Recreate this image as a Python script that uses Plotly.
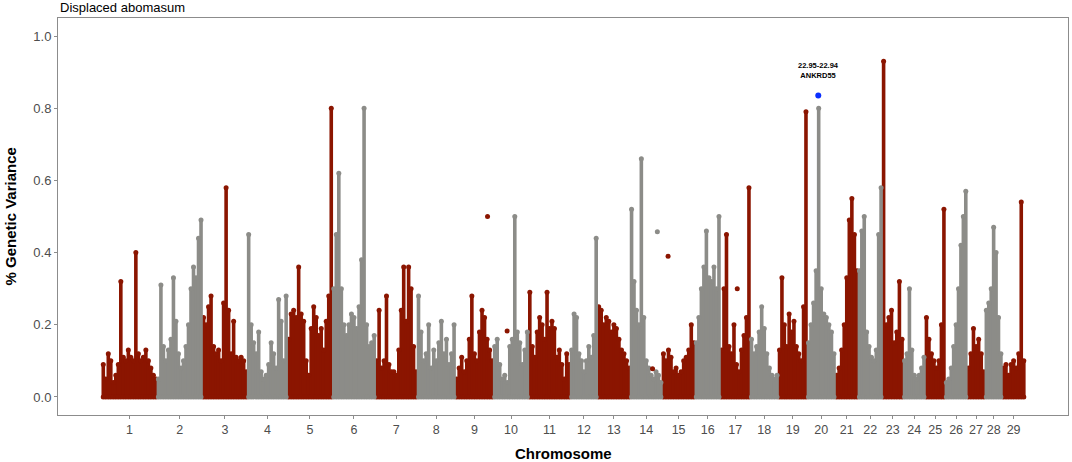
import numpy as np
import plotly.graph_objects as go

chrom_labels = [str(i) for i in range(1, 30)]
# chromosome lengths (Mb) as spaced on the axis
chrom_len = [149, 122, 122, 108, 122, 116, 113, 103, 103, 95, 113, 73, 89, 86, 89,
             68, 81, 76, 78, 76, 62, 65, 57, 59, 54, 59, 49, 46, 62]

# top % genetic variance in consecutive windows along each chromosome
chr1 = [0.09, 0.05, 0.12, 0.10, 0.04, 0.06, 0.09, 0.32, 0.11, 0.10, 0.13, 0.11,
        0.10, 0.40, 0.12, 0.10, 0.11, 0.13, 0.10, 0.08, 0.06, 0.05]
chr2 = [0.05, 0.31, 0.14, 0.10, 0.13, 0.16, 0.33, 0.21, 0.12, 0.08, 0.10, 0.14,
        0.20, 0.30, 0.36, 0.33, 0.44, 0.49]
chr3 = [0.22, 0.20, 0.25, 0.28, 0.14, 0.12, 0.13, 0.10, 0.26, 0.58, 0.24, 0.12,
        0.21, 0.11, 0.10, 0.11, 0.10, 0.07]
chr4 = [0.45, 0.20, 0.15, 0.12, 0.18, 0.07, 0.05, 0.06, 0.09, 0.15, 0.12, 0.08,
        0.27, 0.21, 0.10, 0.28]
chr5 = [0.16, 0.23, 0.24, 0.22, 0.36, 0.23, 0.21, 0.10, 0.06, 0.19, 0.25, 0.22,
        0.17, 0.19, 0.13, 0.21, 0.28, 0.80]
chr6 = [0.30, 0.45, 0.62, 0.30, 0.20, 0.17, 0.20, 0.23, 0.22, 0.19, 0.25, 0.38,
        0.80, 0.20, 0.14, 0.15, 0.17]
chr7 = [0.10, 0.24, 0.08, 0.10, 0.28, 0.09, 0.07, 0.07, 0.06, 0.13, 0.24, 0.36,
        0.21, 0.36, 0.30, 0.14, 0.07]
chr8 = [0.28, 0.18, 0.10, 0.12, 0.20, 0.08, 0.13, 0.10, 0.15, 0.21, 0.12, 0.16,
        0.09, 0.12, 0.20]
chr9 = [0.05, 0.08, 0.11, 0.07, 0.10, 0.16, 0.28, 0.12, 0.10, 0.18, 0.24, 0.22,
        0.16, 0.13, 0.10]
chr10 = [0.14, 0.16, 0.09, 0.05, 0.06, 0.04, 0.14, 0.16, 0.50, 0.18, 0.15, 0.09,
         0.13, 0.18]
chr11 = [0.29, 0.14, 0.11, 0.18, 0.22, 0.20, 0.16, 0.29, 0.19, 0.21, 0.19, 0.11,
         0.13, 0.09, 0.05, 0.12, 0.09]
chr12 = [0.13, 0.23, 0.22, 0.12, 0.10, 0.07, 0.10, 0.14, 0.11, 0.17, 0.44]
chr13 = [0.25, 0.24, 0.20, 0.22, 0.21, 0.18, 0.20, 0.19, 0.16, 0.13, 0.12, 0.10, 0.08]
chr14 = [0.52, 0.32, 0.24, 0.20, 0.66, 0.22, 0.10, 0.08, 0.06, 0.05, 0.07, 0.06, 0.04]
chr15 = [0.12, 0.10, 0.13, 0.11, 0.07, 0.08, 0.06, 0.07, 0.10, 0.11, 0.13, 0.20, 0.15]
chr16 = [0.15, 0.22, 0.30, 0.36, 0.46, 0.33, 0.32, 0.36, 0.30, 0.50]
chr17 = [0.13, 0.30, 0.45, 0.14, 0.12, 0.20, 0.09, 0.07, 0.13, 0.17, 0.22, 0.58]
chr18 = [0.16, 0.12, 0.14, 0.18, 0.25, 0.19, 0.12, 0.08, 0.06, 0.05, 0.06]
chr19 = [0.13, 0.33, 0.20, 0.14, 0.23, 0.18, 0.21, 0.14, 0.12, 0.10, 0.25, 0.79]
chr20 = [0.15, 0.20, 0.26, 0.35, 0.80, 0.30, 0.23, 0.22, 0.20, 0.18, 0.12]
chr21 = [0.06, 0.08, 0.13, 0.20, 0.33, 0.49, 0.55, 0.45, 0.35]
chr22 = [0.35, 0.46, 0.50, 0.18, 0.14, 0.11, 0.10, 0.13, 0.45, 0.58]
chr23 = [0.93, 0.20, 0.22, 0.24, 0.15, 0.18, 0.32, 0.16]
chr24 = [0.10, 0.12, 0.30, 0.13, 0.06, 0.05, 0.06, 0.08, 0.11]
chr25 = [0.22, 0.16, 0.12, 0.10, 0.08, 0.10, 0.20, 0.52]
chr26 = [0.04, 0.05, 0.08, 0.14, 0.20, 0.30, 0.42, 0.50, 0.57]
chr27 = [0.08, 0.12, 0.19, 0.14, 0.16, 0.12, 0.07]
chr28 = [0.24, 0.26, 0.30, 0.47, 0.40, 0.22, 0.12]
chr29 = [0.08, 0.09, 0.06, 0.09, 0.10, 0.08, 0.12, 0.54, 0.10]

chrom_vals = [chr1, chr2, chr3, chr4, chr5, chr6, chr7, chr8, chr9, chr10,
              chr11, chr12, chr13, chr14, chr15, chr16, chr17, chr18, chr19, chr20,
              chr21, chr22, chr23, chr24, chr25, chr26, chr27, chr28, chr29]

# isolated SNPs away from the main clouds
out_chr = [9, 10, 14, 14, 15, 17]
out_mb = [87, 37, 60, 73, 16, 46]
out_val = [0.50, 0.183, 0.078, 0.458, 0.39, 0.30]
out_group = ["odd", "odd", "odd", "even", "odd", "odd"]

# top SNP
top_chr = 20
top_mb = 30
top_val = 0.835
top_label = "22.95-22.94<br>ANKRD55"

RED = "#8B1500"
GREY = "#8C8C88"

offsets = np.concatenate([[0], np.cumsum(chrom_len)[:-1]])
centers = offsets + np.array(chrom_len) / 2
total = sum(chrom_len)

groups = {"odd": {"x": [], "y": [], "tx": [], "ty": []},
          "even": {"x": [], "y": [], "tx": [], "ty": []}}
for k, vals in enumerate(chrom_vals):
    g = groups["odd" if k % 2 == 0 else "even"]
    n = len(vals)
    for i, v in enumerate(vals):
        xp = offsets[k] + (i + 0.5) * chrom_len[k] / n
        g["x"] += [xp, xp, None]
        g["y"] += [0, v, None]
        g["tx"] += [xp, xp]
        g["ty"] += [0, v]

fig = go.Figure()
for name, col in [("odd", RED), ("even", GREY)]:
    g = groups[name]
    fig.add_trace(go.Scatter(x=g["x"], y=g["y"], mode="lines",
                             line=dict(color=col, width=3.6),
                             hoverinfo="skip", showlegend=False))
    fig.add_trace(go.Scatter(x=g["tx"], y=g["ty"], mode="markers",
                             marker=dict(color=col, size=5),
                             hoverinfo="skip", showlegend=False))

for c, m, v, grp in zip(out_chr, out_mb, out_val, out_group):
    fig.add_trace(go.Scatter(x=[offsets[c - 1] + m], y=[v], mode="markers",
                             marker=dict(color=RED if grp == "odd" else GREY, size=5),
                             showlegend=False))

top_x = offsets[top_chr - 1] + top_mb
fig.add_trace(go.Scatter(x=[top_x], y=[top_val], mode="markers",
                         marker=dict(color="#0A2EFF", size=6), showlegend=False))
fig.add_annotation(x=top_x, y=0.905, text="<b>" + top_label + "</b>", showarrow=False,
                   font=dict(size=7.5, color="black"), align="center")

fig.add_annotation(text="Displaced abomasum", xref="paper", yref="paper", x=0, y=1,
                   xanchor="left", yanchor="bottom", yshift=1, showarrow=False,
                   font=dict(size=13, color="black"))
fig.add_annotation(text="<b>Chromosome</b>", xref="paper", yref="paper", x=0.5, y=0,
                   xanchor="center", yanchor="middle", yshift=-38, showarrow=False,
                   font=dict(size=15, color="black"))
fig.add_annotation(text="<b>% Genetic Variance</b>", xref="paper", yref="paper", x=0, y=0.5,
                   xanchor="center", yanchor="middle", xshift=-48, textangle=-90,
                   showarrow=False, font=dict(size=15, color="black"))

fig.update_layout(
    width=1072, height=462,
    margin=dict(l=58, r=4, t=18, b=47, autoexpand=False),
    plot_bgcolor="white", paper_bgcolor="white",
    font=dict(family="Liberation Sans, Arial, sans-serif"),
)
fig.update_xaxes(
    range=[-119, total + 116], tickvals=centers, ticktext=chrom_labels,
    showgrid=False, zeroline=False, showline=True, mirror=True, automargin=False,
    linecolor="#8c8c8c", linewidth=1, ticks="outside", ticklen=3, tickcolor="#8c8c8c",
    tickfont=dict(size=12.5, color="#4d4d4d"),
)
fig.update_yaxes(
    range=[-0.05, 1.05], tickvals=[0, 0.2, 0.4, 0.6, 0.8, 1.0], tickformat=".1f",
    showgrid=False, zeroline=False, showline=True, mirror=True, automargin=False,
    linecolor="#8c8c8c", linewidth=1, ticks="outside", ticklen=3, tickcolor="#8c8c8c",
    tickfont=dict(size=13, color="#4d4d4d"),
)

fig.write_html("out.html", config={"displayModeBar": False},
               post_script="document.body.style.margin='0';document.body.style.overflow='hidden';")
